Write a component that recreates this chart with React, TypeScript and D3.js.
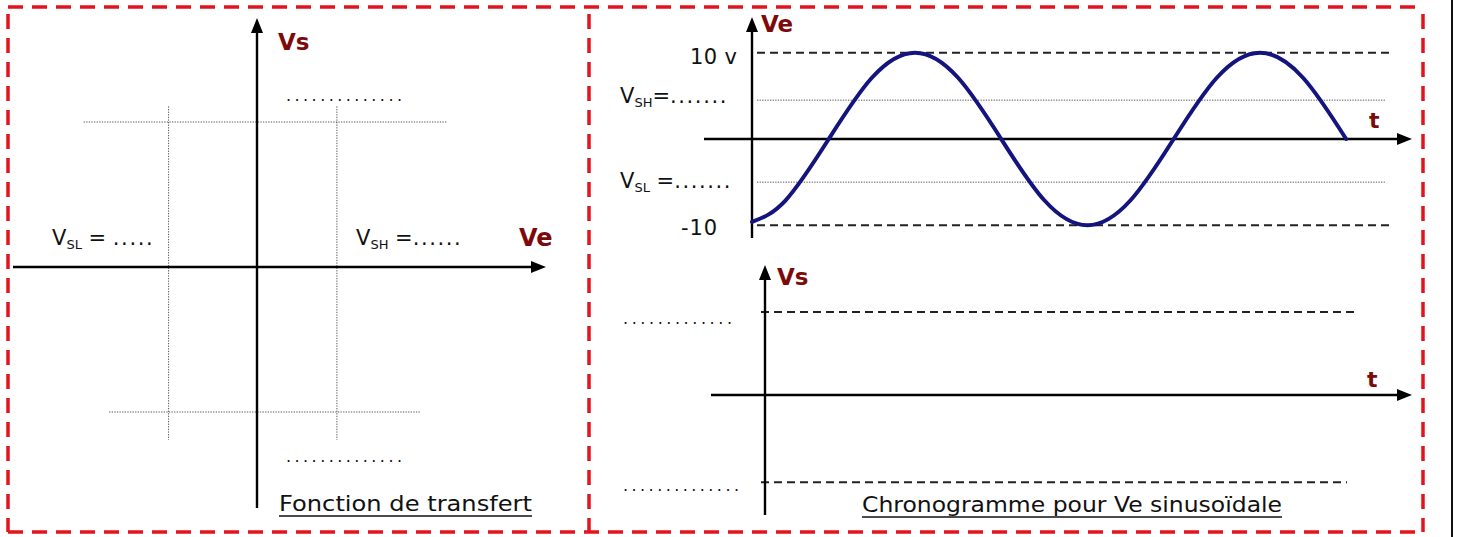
import * as d3 from "d3";

// transfer function (left panel): Ve thresholds and Vs saturation levels
const transferThresholds = [-5.2, 4.7];
const transferSaturation = [13, -13];
// extents of the dotted guide lines, in axis units
const satLineSpans = [
  [-10.2, 11.2],
  [-8.7, 9.6]
];
const thresholdLineSpan = [14.4, -15.5];

// Ve sinusoid (t in ms, Ve in V)
const sineTime = [0, 1.95, 4.45, 6.95, 9.45, 11.95, 14.45, 16.95, 19.45, 21.95, 24.45, 26.95, 29.45, 31.95, 34.45];
const sineVe = [-9.6, -7.1, 0, 7.1, 10, 7.1, 0, -7.1, -10, -7.1, 0, 7.1, 10, 7.1, 0];
const vePeakLevels = [10, -10];
const veThresholdLevels = [4.5, -5.0];
const vsLevels = [10, -10.5];

const W = 1457;
const H = 537;
const RED = "#e3141c";
const DARK_RED = "#7d0a0a";
const FONT = "'DejaVu Sans', Verdana, sans-serif";

function Arrow({ x1, y1, x2, y2 }: { x1: number; y1: number; x2: number; y2: number }) {
  const a = Math.atan2(y2 - y1, x2 - x1);
  const len = 15;
  const half = 6;
  const bx = x2 - Math.cos(a) * len;
  const by = y2 - Math.sin(a) * len;
  const px = -Math.sin(a) * half;
  const py = Math.cos(a) * half;
  return (
    <g>
      <line x1={x1} y1={y1} x2={bx + Math.cos(a) * 2} y2={by + Math.sin(a) * 2} stroke="#000" strokeWidth={2.4} />
      <path d={`M${x2},${y2}L${bx + px},${by + py}L${bx - px},${by - py}Z`} fill="#000" />
    </g>
  );
}

function SubLabel({ x, y, main, sub, eq, dots, size = 21 }: { x: number; y: number; main: string; sub: string; eq: string; dots: string; size?: number }) {
  return (
    <text x={x} y={y} fontSize={size} fontFamily={FONT} fill="#111">
      {main}
      <tspan fontSize={size * 0.62} dy={4}>{sub}</tspan>
      <tspan dy={-4}>{eq}</tspan>
      <tspan letterSpacing={1.6}>{dots}</tspan>
    </text>
  );
}

function Leader({ x, y, w, n }: { x: number; y: number; w: number; n: number }) {
  return (
    <text x={x} y={y} fontSize={16} fontFamily={FONT} fill="#111" textLength={w} lengthAdjust="spacing">
      {".".repeat(n)}
    </text>
  );
}

function Title({ x, y, w, label }: { x: number; y: number; w: number; label: string }) {
  return (
    <g>
      <text x={x} y={y} fontSize={21} fontFamily={FONT} fill="#111" textLength={w} lengthAdjust="spacingAndGlyphs">
        {label}
      </text>
      <line x1={x} x2={x + w} y1={y + 5} y2={y + 5} stroke="#111" strokeWidth={1.6} />
    </g>
  );
}

export default function App() {
  // left panel scales
  const xT = d3.scaleLinear().domain([-10, 10]).range([87, 427]);
  const yT = d3.scaleLinear().domain([-15, 15]).range([434.3, 99.7]);

  // right top (Ve chronogram)
  const xS = d3.scaleLinear().domain([0, 34.5]).range([752, 1347]);
  const yS = d3.scaleLinear().domain([-10, 10]).range([225.3, 52.7]);

  // right bottom (Vs chronogram)
  const yV = d3.scaleLinear().domain([-12, 12]).range([494.6, 295.4]);

  const sinePts = sineTime.map((t, i) => [xS(t), yS(sineVe[i])] as [number, number]);
  const sinePath = d3.line().curve(d3.curveNatural)(sinePts) ?? "";

  const dotted = { stroke: "#555", strokeWidth: 1, strokeDasharray: "1.3 1.3" };
  const dashed = { stroke: "#222", strokeWidth: 2, strokeDasharray: "8 5" };

  return (
    <svg width={W} height={H} viewBox={`0 0 ${W} ${H}`} style={{ position: "absolute", left: 0, top: 0, background: "#fff" }}>
      <rect width={W} height={H} fill="#fff" />
      {/* outer black edge */}
      <line x1={1452} x2={1452} y1={0} y2={H} stroke="#111" strokeWidth={2} />

      {/* red dashed frames */}
      <g fill="none" stroke={RED} strokeWidth={3.5} strokeDasharray="15 9">
        <line x1={8} x2={1423} y1={7} y2={7} />
        <line x1={8} x2={1423} y1={532} y2={532} />
        <line x1={8} x2={8} y1={14} y2={532} />
        <line x1={589} x2={589} y1={14} y2={532} />
        <line x1={1423} x2={1423} y1={14} y2={532} />
      </g>

      {/* ---------- left: transfer function ---------- */}
      {transferSaturation.map((s, i) => (
        <line key={`sat${i}`} x1={xT(satLineSpans[i][0])} x2={xT(satLineSpans[i][1])} y1={yT(s)} y2={yT(s)} {...dotted} />
      ))}
      {transferThresholds.map((v, i) => (
        <line key={`thr${i}`} x1={xT(v)} x2={xT(v)} y1={yT(thresholdLineSpan[0])} y2={yT(thresholdLineSpan[1])} {...dotted} />
      ))}
      <Arrow x1={13} y1={yT(0)} x2={546} y2={yT(0)} />
      <Arrow x1={xT(0)} y1={508} x2={xT(0)} y2={18} />
      <text x={278} y={50} fontSize={23} fontWeight="bold" fontFamily={FONT} fill={DARK_RED}>Vs</text>
      <text x={519} y={246} fontSize={24} fontWeight="bold" fontFamily={FONT} fill={DARK_RED}>Ve</text>
      <Leader x={286} y={101} w={116} n={14} />
      <Leader x={286} y={462} w={116} n={14} />
      <SubLabel x={52} y={245} main="V" sub="SL" eq=" = " dots="....." />
      <SubLabel x={356} y={245} main="V" sub="SH" eq=" =" dots="......" />
      <Title x={279} y={511} w={253} label="Fonction de transfert" />

      {/* ---------- right top: Ve(t) ---------- */}
      {vePeakLevels.map((v, i) => (
        <line key={`pk${i}`} x1={757} x2={1392} y1={yS(v)} y2={yS(v)} {...dashed} />
      ))}
      {veThresholdLevels.map((v, i) => (
        <line key={`vt${i}`} x1={757} x2={1385} y1={yS(v)} y2={yS(v)} {...dotted} />
      ))}
      <Arrow x1={704} y1={yS(0)} x2={1412} y2={yS(0)} />
      <Arrow x1={xS(0)} y1={238} x2={xS(0)} y2={17} />
      <path d={sinePath} fill="none" stroke="#14147e" strokeWidth={4} strokeLinecap="round" />
      <text x={761} y={32} fontSize={23} fontWeight="bold" fontFamily={FONT} fill={DARK_RED}>Ve</text>
      <text x={1369} y={128} fontSize={22} fontWeight="bold" fontFamily={FONT} fill={DARK_RED}>t</text>
      <text x={690} y={64} fontSize={21} fontFamily={FONT} fill="#111" textLength={47}>10 v</text>
      <text x={681} y={235} fontSize={21} fontFamily={FONT} fill="#111" textLength={36}>-10</text>
      <SubLabel x={620} y={103} main="V" sub="SH" eq="=" dots="......." />
      <SubLabel x={620} y={188} main="V" sub="SL" eq=" =" dots="......." />

      {/* ---------- right bottom: Vs(t) ---------- */}
      <line x1={761} x2={1357} y1={yV(vsLevels[0])} y2={yV(vsLevels[0])} {...dashed} />
      <line x1={761} x2={1347} y1={yV(vsLevels[1])} y2={yV(vsLevels[1])} {...dashed} />
      <Arrow x1={711} y1={yV(0)} x2={1412} y2={yV(0)} />
      <Arrow x1={765} y1={515} x2={765} y2={265} />
      <text x={777} y={285} fontSize={23} fontWeight="bold" fontFamily={FONT} fill={DARK_RED}>Vs</text>
      <text x={1367} y={387} fontSize={22} fontWeight="bold" fontFamily={FONT} fill={DARK_RED}>t</text>
      <Leader x={623} y={324} w={109} n={13} />
      <Leader x={623} y={491} w={116} n={14} />
      <Title x={862} y={512} w={420} label="Chronogramme pour Ve sinusoïdale" />
    </svg>
  );
}
